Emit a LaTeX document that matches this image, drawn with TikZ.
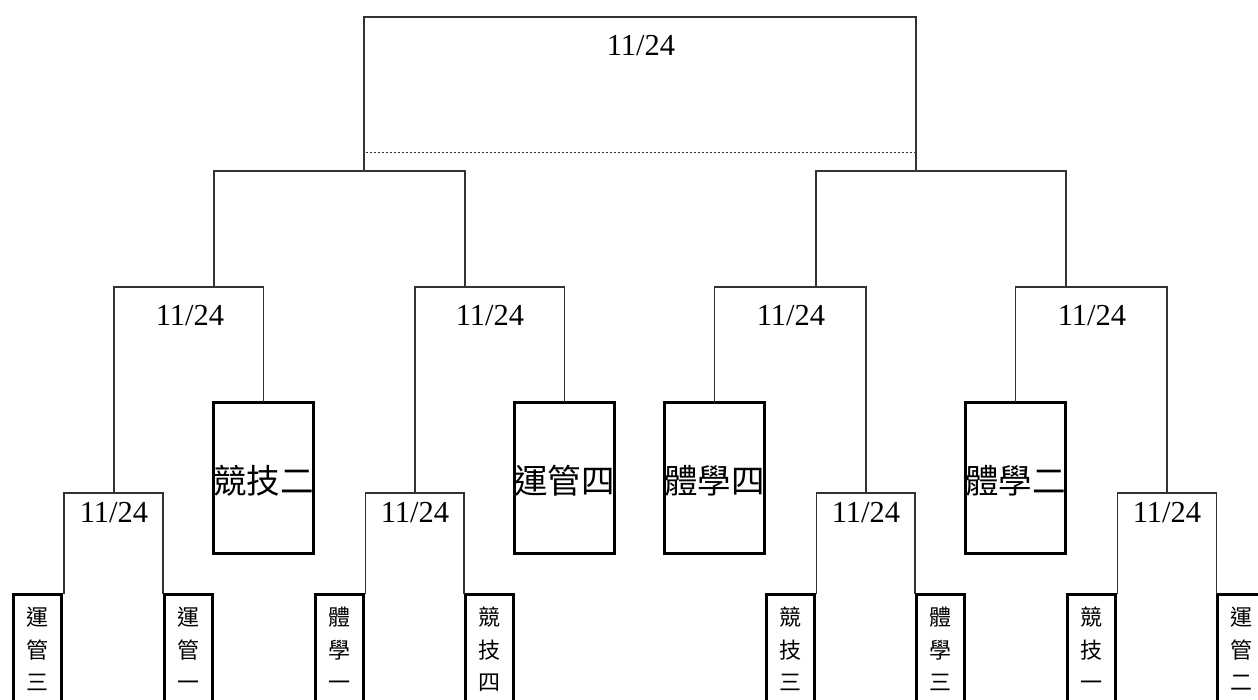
\documentclass[tikz,border=0pt]{standalone}
\usepackage{fontspec}
\setmainfont{Liberation Serif}
\newfontfamily\cjk{Noto Sans CJK TC}
\begin{document}
\begin{tikzpicture}[x=1pt,y=-1pt,
  wire/.style={line width=1.1pt, draw=black!80, line cap=rect},
  dotline/.style={line width=0.9pt, draw=black!80, dash pattern=on 2pt off 2pt},
  date/.style={font=\fontsize{30.5}{30.5}\selectfont, inner sep=0pt},
  sbox/.style={draw, line width=3pt, minimum width=48pt, minimum height=140pt, inner sep=0pt},
  stext/.style={font=\cjk\fontsize{22}{32.5}\selectfont, align=center, inner sep=0pt},
  mbox/.style={draw, line width=3pt, minimum width=98pt, minimum height=151pt, inner sep=0pt,
    text height=33pt, text depth=1.6pt, font=\cjk\fontsize{33.5}{33.5}\selectfont},
]
\useasboundingbox (0,0) rectangle (1258,700);

% small team boxes
\node[sbox] (s1) at (37.5,664.5) {};
\node[sbox] (s2) at (188,664.5) {};
\node[sbox] (s3) at (339,664.5) {};
\node[sbox] (s4) at (489,664.5) {};
\node[sbox] (s5) at (790,664.5) {};
\node[sbox] (s6) at (940,664.5) {};
\node[sbox] (s7) at (1091,664.5) {};
\node[sbox] (s8) at (1241.5,664.5) {};
\node[stext, anchor=north] (s1t) at ([yshift=-14pt]s1.north) {運\\管\\三};
\node[stext, anchor=north] (s2t) at ([yshift=-14pt]s2.north) {運\\管\\一};
\node[stext, anchor=north] (s3t) at ([yshift=-14pt]s3.north) {體\\學\\一};
\node[stext, anchor=north] (s4t) at ([yshift=-14pt]s4.north) {競\\技\\四};
\node[stext, anchor=north] (s5t) at ([yshift=-14pt]s5.north) {競\\技\\三};
\node[stext, anchor=north] (s6t) at ([yshift=-14pt]s6.north) {體\\學\\三};
\node[stext, anchor=north] (s7t) at ([yshift=-14pt]s7.north) {競\\技\\一};
\node[stext, anchor=north] (s8t) at ([yshift=-14pt]s8.north) {運\\管\\二};

% middle team boxes
\node[mbox] (t1) at (263.5,478) {競技二};
\node[mbox] (t2) at (564.5,478) {運管四};
\node[mbox] (t3) at (714.5,478) {體學四};
\node[mbox] (t4) at (1015.5,478) {體學二};

% bracket tops and junctions
\coordinate (b1t) at (114,493);
\coordinate (b2t) at (415,493);
\coordinate (b3t) at (866,493);
\coordinate (b4t) at (1167,493);
\coordinate (m1t) at (189,287);
\coordinate (m2t) at (490,287);
\coordinate (m3t) at (791,287);
\coordinate (m4t) at (1092,287);
\coordinate (jL1) at (214,287);
\coordinate (jL2) at (465,287);
\coordinate (jR1) at (816,287);
\coordinate (jR2) at (1066,287);
\coordinate (sLt) at (340,171);
\coordinate (sRt) at (941,171);
\coordinate (jT1) at (364,171);
\coordinate (jT2) at (916,171);
\coordinate (topt) at (640,17);
\coordinate (dL) at (366,152);
\coordinate (dR) at (916,152);

% date labels
\node[date] (d0) at (641,46) {11/24};
\node[date] (dm1) at (190,316) {11/24};
\node[date] (dm2) at (490,316) {11/24};
\node[date] (dm3) at (791,316) {11/24};
\node[date] (dm4) at (1092,316) {11/24};
\node[date] (db1) at (114,513) {11/24};
\node[date] (db2) at (415,513) {11/24};
\node[date] (db3) at (866,513) {11/24};
\node[date] (db4) at (1167,513) {11/24};

% bottom brackets
\draw[wire] ([xshift=1pt]s1.north east) |- (b1t) -| ([xshift=0.5pt]s2.north west);
\draw[wire] ([xshift=1pt]s3.north east) |- (b2t) -| ([xshift=0.5pt]s4.north west);
\draw[wire] ([xshift=1pt]s5.north east) |- (b3t) -| ([xshift=0.5pt]s6.north west);
\draw[wire] ([xshift=1pt]s7.north east) |- (b4t) -| ([xshift=0.5pt]s8.north west);

% middle brackets
\draw[wire] (b1t) |- (m1t) -| (t1.north);
\draw[wire] (b2t) |- (m2t) -| (t2.north);
\draw[wire] (t3.north) |- (m3t) -| (b3t);
\draw[wire] (t4.north) |- (m4t) -| (b4t);

% semifinal brackets
\draw[wire] (jL1) |- (sLt) -| (jL2);
\draw[wire] (jR1) |- (sRt) -| (jR2);

% final
\draw[wire] (jT1) |- (topt) -| (jT2);
\draw[dotline] (dL) -- (dR);
\end{tikzpicture}
\end{document}
